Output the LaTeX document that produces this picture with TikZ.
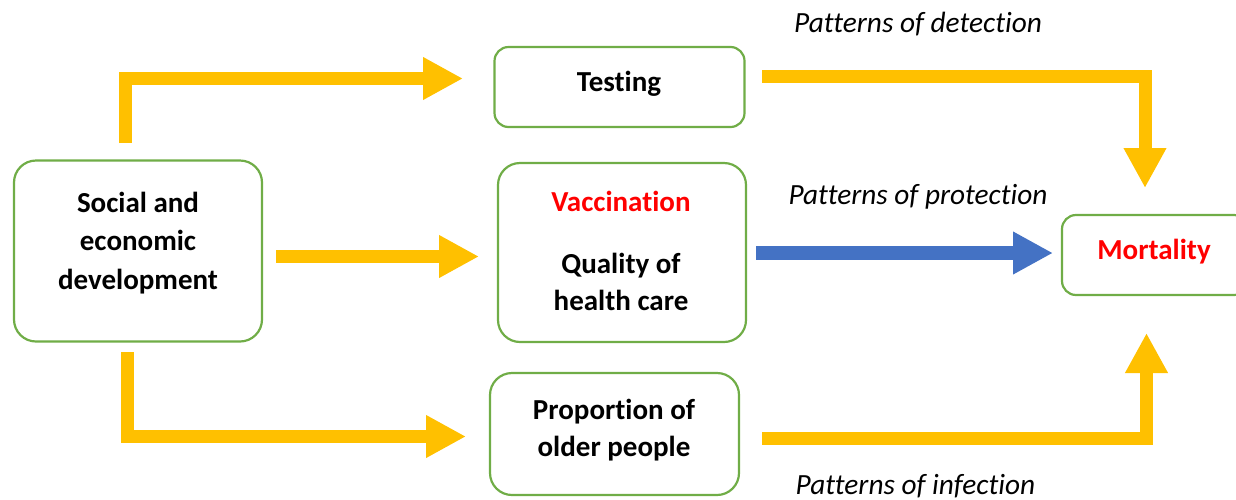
\documentclass[tikz,border=0pt]{standalone}
\usepackage{fontspec}
\setmainfont[Ligatures=NoCommon]{Carlito}
\usetikzlibrary{arrows.meta}
\definecolor{yel}{HTML}{FFC000}
\definecolor{blu}{HTML}{4472C4}
\definecolor{grn}{HTML}{70AD47}
\definecolor{rd}{HTML}{FF0000}
\begin{document}
\begin{tikzpicture}[x=1pt,y=-1pt,
  box/.style={draw=grn, line width=2.2pt, fill=white, rectangle, inner sep=0pt},
  bigbox/.style={box, rounded corners=22pt},
  smallbox/.style={box, rounded corners=14pt},
  lbl/.style={anchor=base, inner sep=0pt, font=\fontsize{29}{38}\selectfont\bfseries},
  pat/.style={anchor=base, inner sep=0pt, font=\fontsize{29.3}{38}\selectfont\itshape},
  yarrow/.style={draw=yel, line width=13pt, line join=miter, -{Triangle[length=40pt,width=40pt]}},
  barrow/.style={draw=blu, line width=14pt, line join=miter, -{Triangle[length=40pt,width=40pt]}}]
\useasboundingbox (0,0) rectangle (1236,499);
% boxes
\node[bigbox, minimum width=248pt, minimum height=181pt] (soc) at (138,251) {};
\node[smallbox, minimum width=250pt, minimum height=80pt] (test) at (619.5,87) {};
\node[bigbox, minimum width=248pt, minimum height=179pt] (vac) at (622,252.5) {};
\node[bigbox, minimum width=249pt, minimum height=122pt] (prop) at (614.5,434) {};
\node[smallbox, minimum width=186pt, minimum height=80pt] (mort) at (1155,255) {};
% texts
\node[lbl] (soc1) at (138,212) {Social and};
\node[lbl] (soc2) at (138,250.5) {economic};
\node[lbl] (soc3) at (138,289) {development};
\node[lbl] (testt) at (619,91) {Testing};
\node[lbl, text=rd] (vac1) at (621,211) {Vaccination};
\node[lbl] (vac2) at (621,273) {Quality of};
\node[lbl] (vac3) at (621,310.5) {health care};
\node[lbl] (prop1) at (614,419) {Proportion of};
\node[lbl] (prop2) at (614,456) {older people};
\node[lbl, text=rd] (mortt) at (1154,259) {Mortality};
\node[pat] (pdet) at (918,32) {Patterns of detection};
\node[pat] (pprot) at (918,204) {Patterns of protection};
\node[pat] (pinf) at (915.5,494) {Patterns of infection};
% arrow end points
\coordinate (a1s) at (125,143);
\coordinate (a1c) at (125,78.5);
\coordinate (a1e) at (463,78.5);
\coordinate (a2s) at (276,256.5);
\coordinate (a2e) at (479,256.5);
\coordinate (a3s) at (127.5,352);
\coordinate (a3c) at (127.5,436.5);
\coordinate (a3e) at (466,436.5);
\coordinate (a4s) at (762,76.5);
\coordinate (a4c) at (1145,76.5);
\coordinate (a4e) at (1145,188);
\coordinate (a5s) at (756,253);
\coordinate (a5e) at (1053,253);
\coordinate (a6s) at (762,438);
\coordinate (a6c) at (1146.5,438);
\coordinate (a6e) at (1146.5,333);
% arrows
\draw[yarrow] (a1s) -- (a1c) -- (a1e);
\draw[yarrow] (a2s) -- (a2e);
\draw[yarrow] (a3s) -- (a3c) -- (a3e);
\draw[yarrow] (a4s) -- (a4c) -- (a4e);
\draw[barrow] (a5s) -- (a5e);
\draw[yarrow] (a6s) -- (a6c) -- (a6e);
\end{tikzpicture}
\end{document}
